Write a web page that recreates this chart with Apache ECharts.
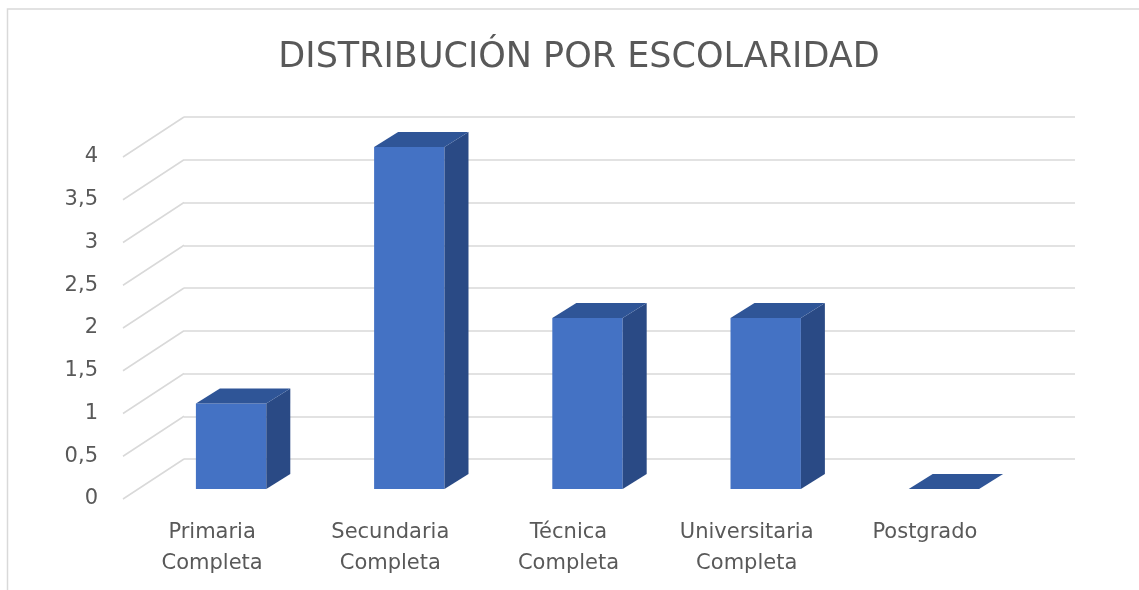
<!DOCTYPE html>
<html>
<head>
<meta charset="utf-8">
<title>Distribución por escolaridad</title>
<script src="https://cdn.jsdelivr.net/npm/echarts@6/dist/echarts.min.js"></script>
<style>
  html, body { margin: 0; padding: 0; background: #fff; }
  #chart { width: 1139px; height: 590px; }
</style>
</head>
<body>
<div id="chart"></div>
<script>
  const categories = [
    'Primaria\nCompleta',
    'Secundaria\nCompleta',
    'Técnica\nCompleta',
    'Universitaria\nCompleta',
    'Postgrado'
  ]
  const counts = [1, 4, 2, 2, 0]
  const yTicks = [0, 0.5, 1, 1.5, 2, 2.5, 3, 3.5, 4]

  // fake 3d: how far the back wall sits from the front plane
  const WALL_DX = 61
  const WALL_DY = 40
  // bars sit a bit inside the floor
  const BAR_DX = 19
  const BAR_DY = 10
  const BAR_DEPTH_X = 24
  const BAR_DEPTH_Y = 15

  const textColor = '#595959'
  const gridColor = '#d9d9d9'
  const font = 'DejaVu Sans'

  const chart = echarts.init(document.getElementById('chart'))

  // diagonal bits on the left side wall, one per tick
  const renderWallTick = (params, api) => {
    const p = api.coord([0, api.value(1)])
    const x0 = params.coordSys.x
    return {
      type: 'line',
      shape: { x1: x0, y1: p[1], x2: x0 + WALL_DX, y2: p[1] - WALL_DY },
      style: { stroke: gridColor, lineWidth: 1.5 }
    }
  }

  const renderBar = (params, api) => {
    const base = api.coord([api.value(0), 0])
    const top = api.coord([api.value(0), api.value(1)])
    const w = api.size([1, 0])[0] * 0.395
    const x1 = base[0] + BAR_DX - w / 2
    const x2 = x1 + w
    const yb = base[1] - BAR_DY
    const yt = top[1] - BAR_DY
    const dx = BAR_DEPTH_X
    const dy = BAR_DEPTH_Y
    return {
      type: 'group',
      children: [
        {
          type: 'polygon',
          shape: { points: [[x1, yb], [x2, yb], [x2, yt], [x1, yt]] },
          style: { fill: '#4472c4' }
        },
        {
          type: 'polygon',
          shape: { points: [[x2, yb], [x2 + dx, yb - dy], [x2 + dx, yt - dy], [x2, yt]] },
          style: { fill: '#2a4a85' }
        },
        {
          type: 'polygon',
          shape: { points: [[x1, yt], [x2, yt], [x2 + dx, yt - dy], [x1 + dx, yt - dy]] },
          style: { fill: '#2f5597' }
        }
      ]
    }
  }

  const option = {
    animation: false,
    title: {
      text: 'DISTRIBUCIÓN POR ESCOLARIDAD',
      left: 574,
      top: 35,
      textAlign: 'center',
      textStyle: {
        fontFamily: font,
        fontSize: 35,
        fontWeight: 'normal',
        color: textColor
      }
    },
    graphic: [
      {
        type: 'rect',
        shape: { x: 7.5, y: 9, width: 1200, height: 700 },
        style: { fill: 'none', stroke: gridColor, lineWidth: 1.5 },
        silent: true
      }
    ],
    grid: [
      // back wall
      { left: 184, right: 64, top: 117, bottom: 131 },
      // front plane (labels + bars)
      { left: 123, right: 125, top: 157, bottom: 91 }
    ],
    xAxis: [
      {
        gridIndex: 0,
        type: 'category',
        data: categories,
        axisLine: { show: false },
        axisTick: { show: false },
        axisLabel: { show: false }
      },
      {
        gridIndex: 1,
        type: 'category',
        data: categories,
        axisLine: { show: false },
        axisTick: { show: false },
        axisLabel: {
          margin: 18,
          fontFamily: font,
          fontSize: 21,
          lineHeight: 31,
          color: textColor
        }
      }
    ],
    yAxis: [
      {
        gridIndex: 0,
        type: 'value',
        min: 0,
        max: 4,
        interval: 0.5,
        axisLabel: { show: false },
        splitLine: { lineStyle: { color: gridColor, width: 1.5 } }
      },
      {
        gridIndex: 1,
        type: 'value',
        min: 0,
        max: 4,
        interval: 0.5,
        splitLine: { show: false },
        axisLabel: {
          margin: 25,
          fontFamily: font,
          fontSize: 21,
          color: textColor,
          formatter: (v) => String(v).replace('.', ',')
        }
      }
    ],
    series: [
      {
        type: 'custom',
        xAxisIndex: 1,
        yAxisIndex: 1,
        data: yTicks.map((v) => [0, v]),
        renderItem: renderWallTick,
        silent: true,
        z: 1
      },
      {
        type: 'custom',
        xAxisIndex: 1,
        yAxisIndex: 1,
        data: counts.map((v, i) => [i, v]),
        renderItem: renderBar,
        z: 5
      }
    ]
  }

  chart.setOption(option)
</script>
</body>
</html>
